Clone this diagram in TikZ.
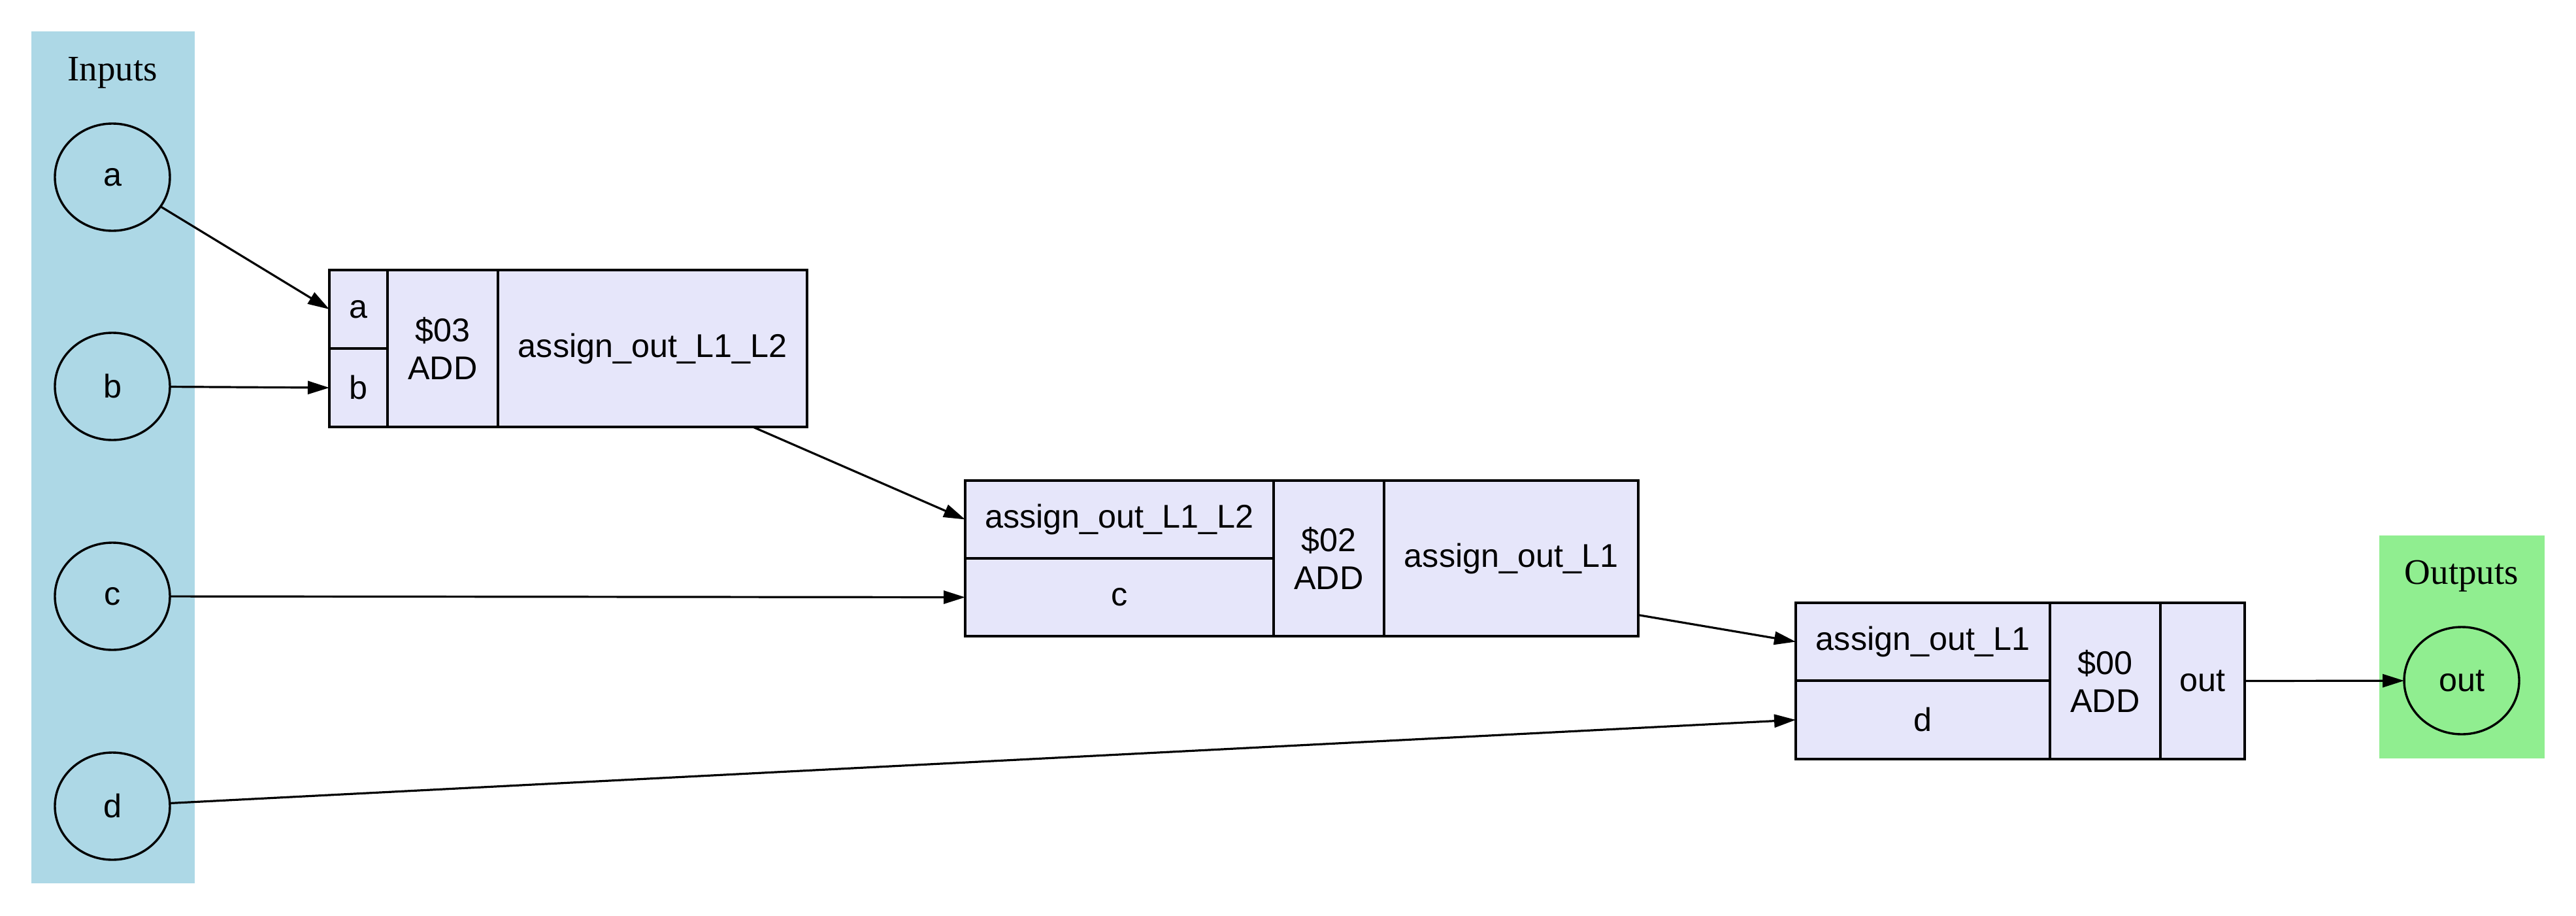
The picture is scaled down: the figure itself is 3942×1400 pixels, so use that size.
\documentclass[tikz,border=0pt]{standalone}
\usepackage{fontspec}
\setmainfont{Liberation Serif}
\newfontfamily\arialfont{Liberation Sans}
\usetikzlibrary{arrows.meta, shapes.geometric, positioning}
\definecolor{inputblue}{RGB}{173,216,230}
\definecolor{outputgreen}{RGB}{144,238,144}
\definecolor{cellfill}{RGB}{230,230,250}
\tikzset{
  cell/.style={draw, fill=cellfill, line width=3.4pt, inner sep=0pt, outer sep=0pt,
    anchor=north west, align=center, font=\arialfont\fontsize{50.3}{58}\selectfont},
  port/.style={draw, ellipse, line width=3.4pt, inner sep=0pt, outer sep=0pt,
    minimum width=176pt, minimum height=164pt, font=\arialfont\fontsize{50.3}{58}\selectfont},
  wire/.style={line width=3.2pt},
  clusterlabel/.style={anchor=base, font=\fontsize{55}{60}\selectfont}
}
\begin{document}
\begin{tikzpicture}[x=1pt, y=-1pt, >={Triangle[length=33pt,width=20pt]}]
  \useasboundingbox (0,0) rectangle (3942,1400);

  % Input cluster
  \fill[inputblue] (48,48) rectangle (298,1351);
  \node[clusterlabel] (inlabel) at (172,123) {Inputs};
  \node[port, fill=inputblue] (a) at (172,271) {a};
  \node[port, fill=inputblue] (b) at (172,591) {b};
  \node[port, fill=inputblue] (c) at (172,912) {c};
  \node[port, fill=inputblue] (d) at (172,1233) {d};

  % Output cluster
  \fill[outputgreen] (3641,819) rectangle (3894,1160);
  \node[clusterlabel] (outlabel) at (3767,893) {Outputs};
  \node[port, fill=outputgreen] (out) at (3767,1041) {out};

  % $03 ADD
  \node[cell, minimum width=89pt, minimum height=120pt] (add3a) at (504,413) {a};
  \node[cell, minimum width=89pt, minimum height=120pt] (add3b) at (504,533) {b};
  \node[cell, minimum width=169pt, minimum height=240pt] (add3op) at (593,413) {\$03\\ADD};
  \node[cell, minimum width=473pt, minimum height=240pt] (add3y) at (762,413) {assign\_out\_L1\_L2};

  % $02 ADD
  \node[cell, minimum width=472pt, minimum height=119pt] (add2a) at (1477,735) {assign\_out\_L1\_L2};
  \node[cell, minimum width=472pt, minimum height=119pt] (add2b) at (1477,854) {c};
  \node[cell, minimum width=169pt, minimum height=238pt] (add2op) at (1949,735) {\$02\\ADD};
  \node[cell, minimum width=389pt, minimum height=238pt] (add2y) at (2118,735) {assign\_out\_L1};

  % $00 ADD
  \node[cell, minimum width=389pt, minimum height=119pt] (add0a) at (2748,922) {assign\_out\_L1};
  \node[cell, minimum width=389pt, minimum height=120pt] (add0b) at (2748,1041) {d};
  \node[cell, minimum width=169pt, minimum height=239pt] (add0op) at (3137,922) {\$00\\ADD};
  \node[cell, minimum width=129pt, minimum height=239pt] (add0y) at (3306,922) {out};

  % Wires
  \draw[->, wire] (a) -- (add3a.west);
  \draw[->, wire] (b) -- (add3b.west);
  \draw[->, wire] (add3y.-38) -- (add2a.west);
  \draw[->, wire] (c) -- (add2b.west);
  \draw[->, wire] (add2y.-24) -- (add0a.west);
  \draw[->, wire] (d) -- (add0b.west);
  \draw[->, wire] (add0y.east) -- (out);
\end{tikzpicture}
\end{document}
